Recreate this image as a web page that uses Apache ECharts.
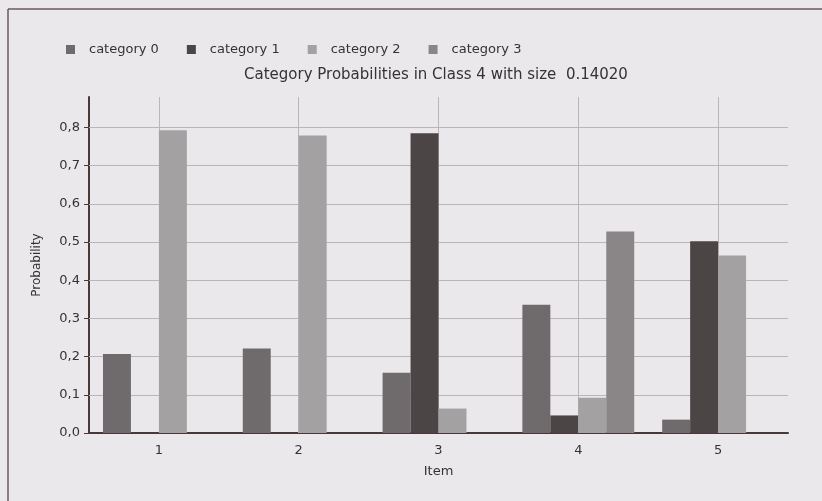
<!DOCTYPE html>
<html><head><meta charset="utf-8">
<script src="https://cdn.jsdelivr.net/npm/echarts@6/dist/echarts.min.js"></script>
<style>html,body{margin:0;padding:0;background:#ebe8ec}#c{width:822px;height:501px}</style>
</head><body><div id="c"></div>
<script>
const items = ['1','2','3','4','5'];
const seriesNames = ['category 0','category 1','category 2','category 3'];
const cat0 = [0.207, 0.221, 0.158, 0.336, 0.035];
const cat1 = [0, 0, 0.785, 0.046, 0.502];
const cat2 = [0.793, 0.779, 0.064, 0.092, 0.465];
const cat3 = [0, 0, 0, 0.528, 0];
const yTicks = [0, 0.1, 0.2, 0.3, 0.4, 0.5, 0.6, 0.7, 0.8];
const colors = ['#6f6b6d', '#4b4546', '#a4a1a3', '#8a8688'];
const values = [cat0, cat1, cat2, cat3];
const FONT = 'DejaVu Sans, Liberation Sans, Arial';

const chart = echarts.init(document.getElementById('c'), null, {renderer:'canvas'});
const series = seriesNames.map((n,i)=>({
  name:n, type:'bar', data:values[i], barGap:'0%', barCategoryGap:'20%',
  itemStyle:{color:colors[i]}, z:10
}));
series.push({
  type:'line', data:items.map(()=>null), showSymbol:false, silent:true, z:1,
  markLine:{
    silent:true, symbol:'none', label:{show:false}, animation:false, z:1,
    lineStyle:{color:'#b9b6b9', width:1, type:'solid'},
    data: yTicks.filter(v=>v>0).map(v=>({yAxis:v})).concat(items.map(c=>({xAxis:c})))
  }
});
chart.setOption({
  animation:false,
  backgroundColor:'#ebe8ec',
  color:colors,
  title:{text:'Category Probabilities in Class 4 with size  0.14020', left:239, top:63,
    textStyle:{fontFamily:FONT, fontSize:15, fontWeight:'normal', color:'#333'}},
  legend:{data:seriesNames, left:61, top:38, itemWidth:9, itemHeight:9, itemGap:28, icon:'rect',
    textStyle:{fontFamily:FONT, fontSize:13, color:'#333', padding:[0,0,0,9]}},
  grid:{left:89, right:34, top:97, bottom:68},
  xAxis:{type:'category', data:items, name:'Item', nameLocation:'middle', nameGap:32,
    nameTextStyle:{fontFamily:FONT, fontSize:13, color:'#333'},
    axisLine:{lineStyle:{color:'#4a3838', width:2}},
    axisTick:{alignWithLabel:true, length:5, lineStyle:{color:'#4a3838'}},
    axisLabel:{fontFamily:FONT, fontSize:13, color:'#333', margin:11},
    splitLine:{show:false}},
  yAxis:{type:'value', min:0, max:0.88, interval:0.1, name:'Probability', nameLocation:'middle', nameGap:46,
    nameTextStyle:{fontFamily:FONT, fontSize:12, color:'#333'},
    axisLine:{show:true, lineStyle:{color:'#4a3838', width:2}},
    axisTick:{show:true, length:5, lineStyle:{color:'#4a3838'}, customValues:yTicks},
    axisLabel:{fontFamily:FONT, fontSize:13, color:'#333', margin:9, customValues:yTicks,
      formatter:v=>v.toFixed(1).replace('.',',')},
    splitLine:{show:false}},
  graphic:[
    {type:'line', shape:{x1:8,y1:9,x2:822,y2:9}, style:{stroke:'#6a5a5c', lineWidth:1.5}, silent:true},
    {type:'line', shape:{x1:8,y1:9,x2:8,y2:501}, style:{stroke:'#6a5a5c', lineWidth:1.5}, silent:true}
  ],
  series:series
});
</script></body></html>
